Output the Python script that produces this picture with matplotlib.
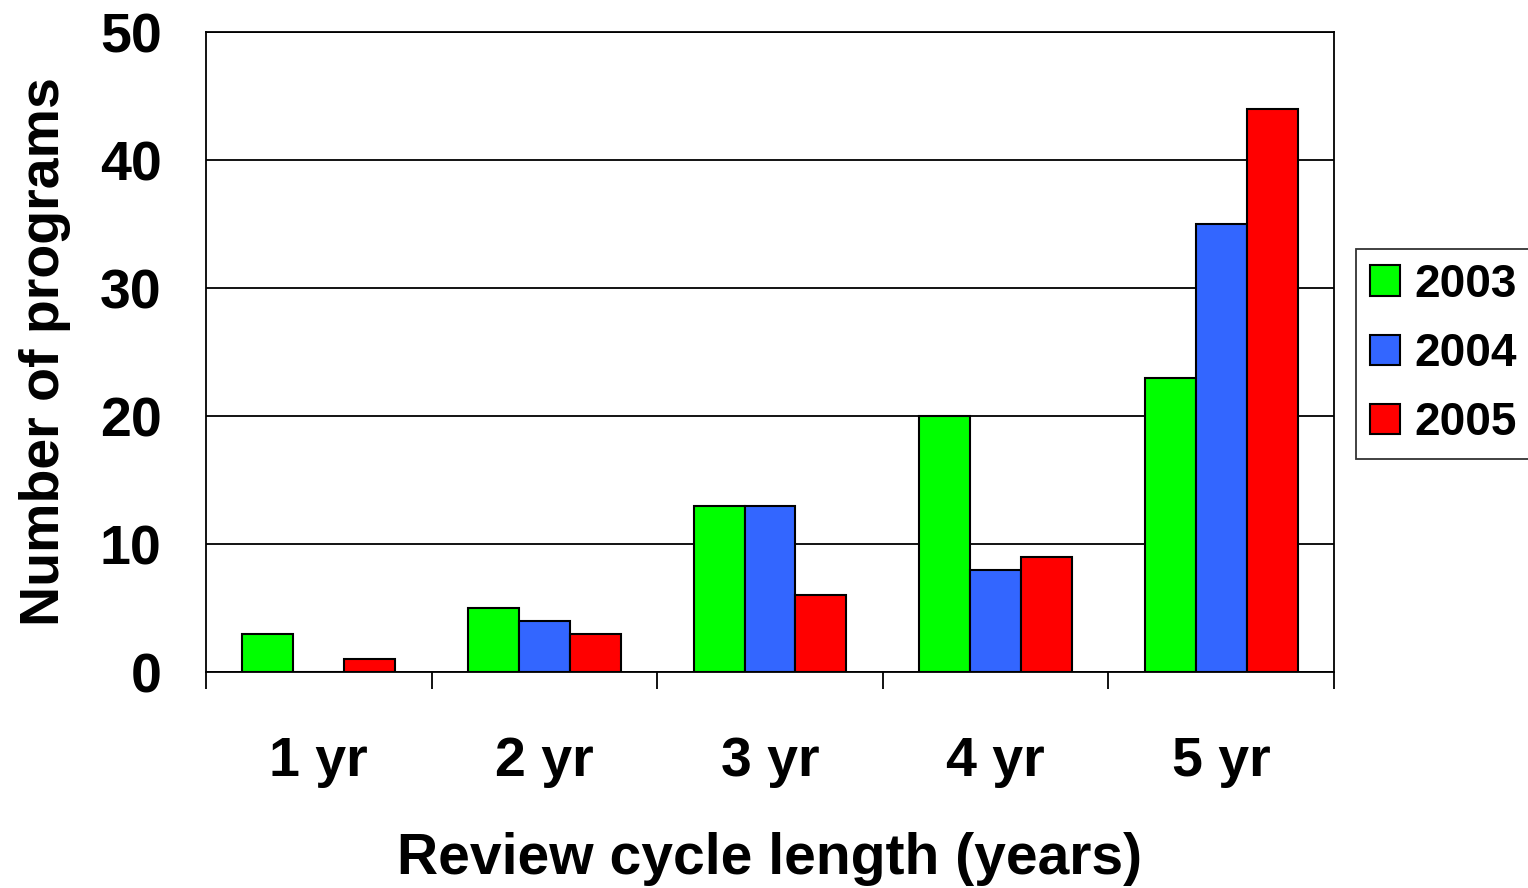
import numpy as np
import matplotlib.pyplot as plt

categories = ['1 yr', '2 yr', '3 yr', '4 yr', '5 yr']
years = ['2003', '2004', '2005']
v2003 = [3, 5, 13, 20, 23]
v2004 = [0, 4, 13, 8, 35]
v2005 = [1, 3, 6, 9, 44]
colors = ['#00ff00', '#3366ff', '#ff0000']

plt.rcParams['font.family'] = ['Liberation Sans', 'DejaVu Sans']
plt.rcParams['font.weight'] = 'bold'
plt.rcParams['axes.labelweight'] = 'bold'

fig = plt.figure(figsize=(15.28, 8.88), dpi=100)
ax = fig.add_axes([206 / 1528, 1 - 672 / 888, 1128 / 1528, 640 / 888])

x = np.arange(len(categories))
w = 0.226
for i, (vals, lab) in enumerate(zip([v2003, v2004, v2005], years)):
    ax.bar(x + (i - 1) * w, vals, w, color=colors[i], edgecolor='black',
           linewidth=1.5, label=lab, zorder=3)

ax.set_xlim(-0.5, 4.5)
ax.set_ylim(0, 50)
ax.set_yticks([0, 10, 20, 30, 40, 50])
ax.yaxis.grid(True, color='black', linewidth=1.3, zorder=0)
ax.tick_params(axis='y', length=0, pad=32, labelsize=40)

ax.set_xticks(np.arange(-0.5, 5, 1))
ax.set_xticklabels([])
ax.set_xticks(x, minor=True)
ax.set_xticklabels(categories, minor=True, fontsize=40)
ax.tick_params(axis='x', which='major', length=12, width=1.3, direction='out')
ax.tick_params(axis='x', which='minor', length=0, pad=46)

for s in ax.spines.values():
    s.set_linewidth(1.3)

ax.set_ylabel('Number of programs', fontsize=40, labelpad=21)
ax.set_xlabel('Review cycle length (years)', fontsize=41, labelpad=32)

leg = fig.legend(loc='center left', bbox_to_anchor=(1356 / 1528, 1 - 354 / 888),
                 fontsize=33, frameon=True, fancybox=False, edgecolor='black',
                 handlelength=0.65, handleheight=0.65, handletextpad=0.33,
                 labelspacing=0.55, borderpad=0.3, borderaxespad=0)
leg.get_frame().set_linewidth(1.3)

fig.savefig('out.png', dpi=100)
